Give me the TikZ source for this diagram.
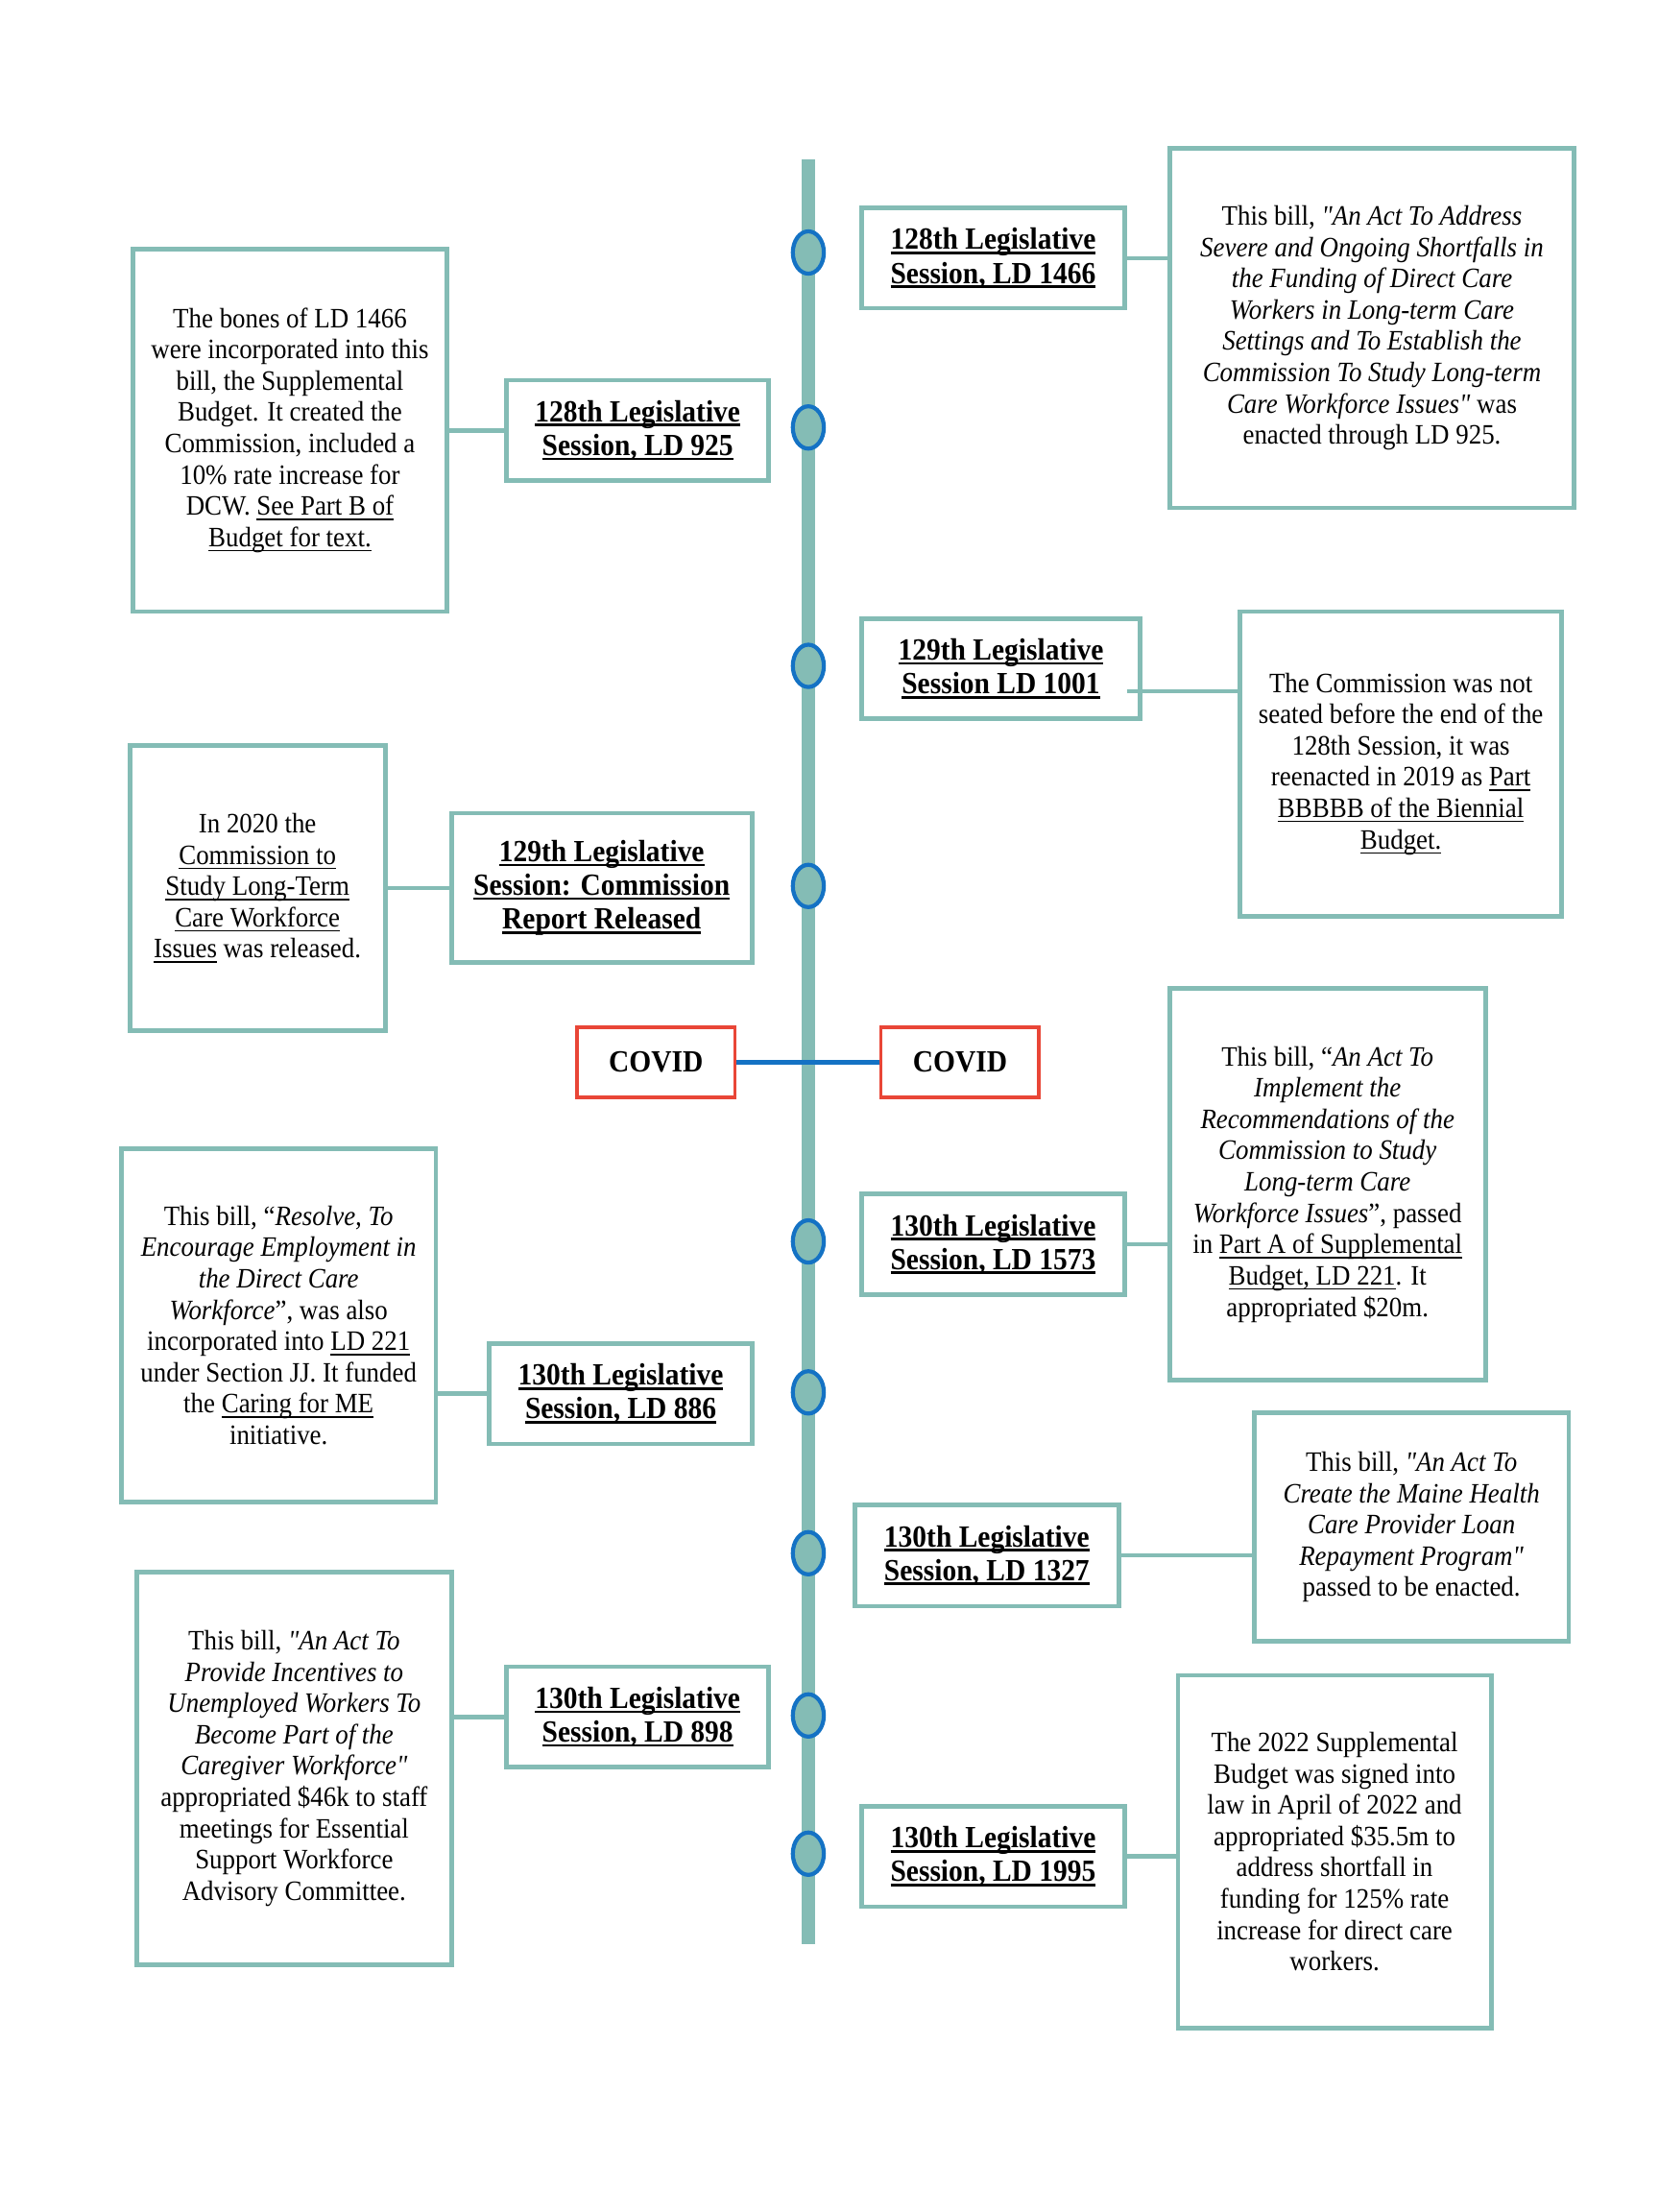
\documentclass[tikz,border=0pt]{standalone}
\usepackage{fontspec}
\setmainfont{Liberation Serif}[FakeStretch=0.92, Ligatures=TeXOff]
\usetikzlibrary{shapes.geometric}
\definecolor{lineteal}{RGB}{132,188,181}
\definecolor{dotblue}{RGB}{20,114,196}
\definecolor{covidred}{RGB}{233,70,55}
\newcommand\pu{0.018367cm}
\newcommand\lnk[2][0.45pt]{\leavevmode\sbox0{#2}\rlap{\rule[-1.7pt]{\wd0}{#1}}\usebox0}
\newcommand\tline[1]{\lnk[0.9pt]{#1}}

\begin{document}
\begin{tikzpicture}[
  x=\pu, y=-\pu,
  sess/.style={draw=lineteal, line width=1.7pt, align=center, inner sep=0pt,
    font=\fontsize{11.4}{12.5}\selectfont\bfseries, minimum width=186*\pu, minimum height=71*\pu},
  note/.style={draw=lineteal, line width=1.7pt, align=center, inner sep=0pt,
    font=\fontsize{10.4}{11.6}\selectfont},
  covid/.style={draw=covidred, line width=1.3pt, font=\fontsize{11.4}{12.5}\selectfont\bfseries,
    minimum width=112*\pu, minimum height=50*\pu},
  bead/.style={ellipse, draw=dotblue, fill=lineteal, line width=1.5pt, inner sep=0pt,
    minimum width=22*\pu, minimum height=30*\pu},
  link/.style={draw=lineteal, line width=1.7pt},
  spine/.style={draw=lineteal, line width=5.3pt}
]
\useasboundingbox (0,0) rectangle (1176,1568);
\fill[white] (0,0) rectangle (1176,1568);

\coordinate (top) at (573,113);
\coordinate (bot) at (573,1378);
\draw[spine] (top) -- (bot);
\foreach \y [count=\i] in {179,303,472,628,880,987,1101,1216,1314}
  \node[bead] (d\i) at (573,\y) {};

\node[sess] (t1466) at (704,183) {\tline{128th Legislative}\\\tline{Session, LD 1466}};
\node[note, minimum width=287*\pu, minimum height=255*\pu] (n1466) at (972.5,232.5)
  {This bill, \textit{"An Act To Address}\\\textit{Severe and Ongoing Shortfalls in}\\
   \textit{the Funding of Direct Care}\\\textit{Workers in Long-term Care}\\
   \textit{Settings and To Establish the}\\\textit{Commission To Study Long-term}\\
   \textit{Care Workforce Issues"} was\\enacted through LD 925.};

\node[sess] (t925) at (452,305) {\tline{128th Legislative}\\\tline{Session, LD 925}};
\node[note, minimum width=223*\pu, minimum height=257*\pu] (n925) at (205.5,305)
  {The bones of LD 1466\\were incorporated into this\\bill, the Supplemental\\
   Budget. It created the\\Commission, included a\\10\% rate increase for\\
   DCW. \lnk{See Part B of}\\\lnk{Budget for text.}};

\node[sess, minimum width=197*\pu] (t1001) at (709.5,474) {\tline{129th Legislative}\\\tline{Session LD 1001}};
\node[note, minimum width=228*\pu, minimum height=216*\pu] (n1001) at (993,541.5)
  {The Commission was not\\seated before the end of the\\128th Session, it was\\
   reenacted in 2019 as \lnk{Part}\\\lnk{BBBBB of the Biennial}\\\lnk{Budget.}};

\node[sess, minimum width=213*\pu, minimum height=106*\pu] (tcomm) at (426.5,629.5)
  {\tline{129th Legislative}\\\tline{Session: Commission}\\\tline{Report Released}};
\node[note, minimum width=181*\pu, minimum height=202*\pu] (ncomm) at (182.5,629.5)
  {In 2020 the\\\lnk{Commission to}\\\lnk{Study Long-Term}\\
   \lnk{Care Workforce}\\\lnk{Issues} was released.};

\node[covid] (covidl) at (465,753) {COVID};
\node[covid] (covidr) at (680.5,753) {COVID};

\node[sess] (t1573) at (704,882) {\tline{130th Legislative}\\\tline{Session, LD 1573}};
\node[note, minimum width=224*\pu, minimum height=278*\pu] (n1573) at (941,839.5)
  {This bill, “\textit{An Act To}\\\textit{Implement the}\\\textit{Recommendations of the}\\
   \textit{Commission to Study}\\\textit{Long-term Care}\\\textit{Workforce Issues}”, passed\\
   in \lnk{Part A of Supplemental}\\\lnk{Budget, LD 221}. It\\appropriated \$20m.};

\node[sess] (t886) at (440,988) {\tline{130th Legislative}\\\tline{Session, LD 886}};
\node[note, minimum width=223*\pu, minimum height=250*\pu] (n886) at (197.5,939.5)
  {This bill, “\textit{Resolve, To}\\\textit{Encourage Employment in}\\\textit{the Direct Care}\\
   \textit{Workforce}”, was also\\incorporated into \lnk{LD 221}\\
   under Section JJ. It funded\\the \lnk{Caring for ME}\\initiative.};

\node[sess, minimum width=187*\pu, minimum height=72*\pu] (t1327) at (699.5,1102.5)
  {\tline{130th Legislative}\\\tline{Session, LD 1327}};
\node[note, minimum width=223*\pu, minimum height=162*\pu] (n1327) at (1000.5,1082.5)
  {This bill, \textit{"An Act To}\\\textit{Create the Maine Health}\\\textit{Care Provider Loan}\\
   \textit{Repayment Program"}\\passed to be enacted.};

\node[sess] (t898) at (452,1217) {\tline{130th Legislative}\\\tline{Session, LD 898}};
\node[note, minimum width=223*\pu, minimum height=278*\pu] (n898) at (208.5,1253.5)
  {This bill, \textit{"An Act To}\\\textit{Provide Incentives to}\\\textit{Unemployed Workers To}\\
   \textit{Become Part of the}\\\textit{Caregiver Workforce"}\\appropriated \$46k to staff\\
   meetings for Essential\\Support Workforce\\Advisory Committee.};

\node[sess] (t1995) at (704,1316) {\tline{130th Legislative}\\\tline{Session, LD 1995}};
\node[note, minimum width=222*\pu, minimum height=250*\pu] (n1995) at (946,1312.5)
  {The 2022 Supplemental\\Budget was signed into\\law in April of 2022 and\\
   appropriated \$35.5m to\\address shortfall in\\funding for 125\% rate\\
   increase for direct care\\workers.};

\coordinate (c1001) at ([shift={(-11,16)}]t1001.east);
\draw[link] (t1466.east) -- (t1466.east -| n1466.west);
\draw[link] (n925.east) -- (t925.west);
\draw[link] (c1001) -- (c1001 -| n1001.west);
\draw[link] (ncomm.east) -- (tcomm.west);
\draw[dotblue, line width=1.6pt] (covidl.east) -- (covidr.west);
\draw[link] (t1573.east) -- (t1573.east -| n1573.west);
\draw[link] (t886.west) -- (t886.west -| n886.east);
\draw[link] (t1327.east) -- (t1327.east -| n1327.west);
\draw[link] (t898.west) -- (t898.west -| n898.east);
\draw[link] (t1995.east) -- (t1995.east -| n1995.west);
\end{tikzpicture}
\end{document}
